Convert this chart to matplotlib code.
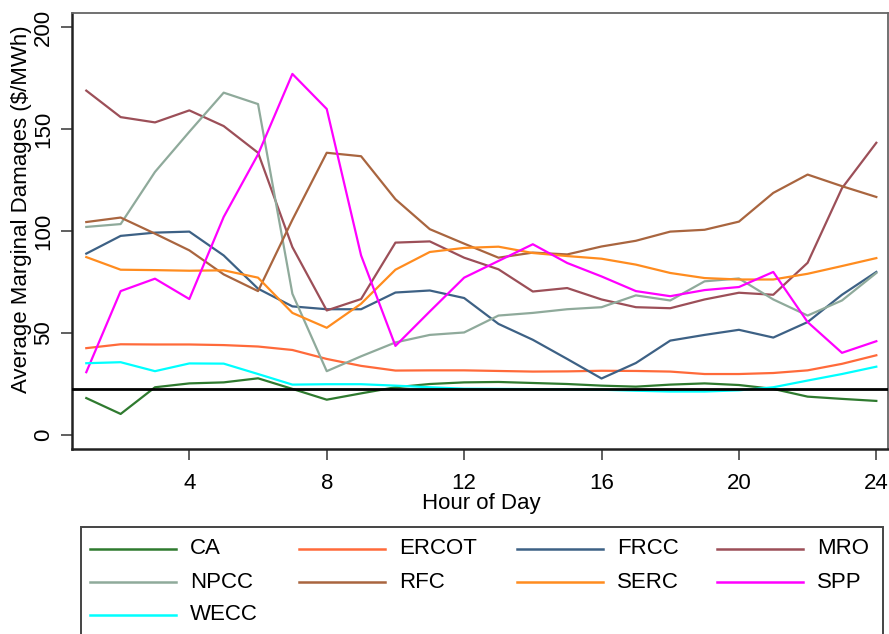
import matplotlib
matplotlib.use("Agg")
import matplotlib.pyplot as plt
import matplotlib.patches as mpatches
from matplotlib.lines import Line2D

plt.rcParams["font.family"] = ["Liberation Sans", "DejaVu Sans"]

hours = list(range(1, 25))

ca = [18.0, 10.2, 23.3, 25.2, 25.7, 27.7, 22.5, 17.2, 20.3, 23.3, 24.9, 25.7,
      25.9, 25.4, 24.9, 24.1, 23.6, 24.6, 25.2, 24.4, 22.5, 18.7, 17.6, 16.6]
ercot = [42.5, 44.4, 44.3, 44.3, 44.0, 43.3, 41.6, 37.2, 33.8, 31.5, 31.6, 31.6,
         31.3, 31.0, 31.1, 31.4, 31.3, 31.0, 29.8, 29.8, 30.3, 31.6, 34.8, 39.0]
frcc = [88.9, 97.6, 99.2, 99.7, 88.0, 71.7, 63.0, 61.6, 61.6, 69.8, 70.8, 67.1,
        54.4, 46.6, 37.2, 27.6, 35.2, 46.2, 49.0, 51.5, 47.7, 55.3, 68.7, 79.9]
mro = [168.9, 155.9, 153.3, 159.2, 151.5, 138.4, 92.1, 61.0, 66.6, 94.3, 94.9, 86.9,
       81.2, 70.3, 72.0, 66.4, 62.6, 62.1, 66.4, 69.7, 68.7, 84.4, 121.0, 143.3]
npcc = [102.0, 103.4, 129.0, 148.7, 167.9, 162.3, 69.2, 31.2, 38.5, 45.3, 49.0, 50.2,
        58.5, 59.8, 61.6, 62.6, 68.4, 65.9, 75.3, 76.7, 66.4, 58.5, 65.9, 79.4]
rfc = [104.4, 106.6, 98.7, 90.5, 78.7, 70.5, 105.5, 138.4, 136.7, 115.6, 100.9, 93.8,
       86.9, 89.4, 88.5, 92.4, 95.2, 99.7, 100.6, 104.6, 118.7, 127.7, 122.0, 116.7]
serc = [87.2, 81.0, 80.8, 80.5, 80.7, 77.1, 59.8, 52.5, 64.3, 81.0, 89.7, 91.7,
        92.3, 89.2, 87.7, 86.4, 83.5, 79.4, 76.9, 76.2, 76.2, 79.0, 82.8, 86.7]
spp = [30.7, 70.5, 76.6, 66.6, 106.9, 137.6, 177.1, 159.9, 88.0, 43.6, 60.5, 77.1,
       85.3, 93.5, 84.3, 77.7, 70.5, 68.0, 71.0, 72.5, 79.9, 55.3, 40.2, 45.9]
wecc = [35.1, 35.6, 31.2, 35.0, 34.9, 29.8, 24.6, 24.8, 24.8, 24.1, 23.3, 22.6,
        22.5, 22.4, 22.3, 22.1, 21.6, 21.2, 21.2, 21.8, 23.3, 26.6, 29.8, 33.4]

reference_level = 22.5

names = ["CA", "ERCOT", "FRCC", "MRO", "NPCC", "RFC", "SERC", "SPP", "WECC"]
series = [ca, ercot, frcc, mro, npcc, rfc, serc, spp, wecc]
colors = ["#2f7a2f", "#ff6a3a", "#3d6185", "#9c4f58", "#8faa9b",
          "#a9653f", "#ff8c1f", "#ff00ff", "#00ffff"]

W, H = 889, 634
fig = plt.figure(figsize=(W / 100, H / 100), dpi=100)
ax = fig.add_axes([72 / W, 1 - 449 / H, (888 - 72) / W, (449 - 13) / H])

for name, vals, col in zip(names, series, colors):
    ax.plot(hours, vals, color=col, linewidth=1.6, label=name)

ax.axhline(reference_level, color="black", linewidth=2.0, zorder=5)

ax.set_xlim(0.584, 24.34)
ax.set_ylim(-7.0, 207.0)
ax.set_xticks([4, 8, 12, 16, 20, 24])
ax.set_yticks([0, 50, 100, 150, 200])
ax.tick_params(axis="both", labelsize=16, length=8, width=1.2, color="#444444")
ax.tick_params(axis="x", pad=9)
ax.tick_params(axis="y", pad=5)
for lab in ax.get_yticklabels():
    lab.set_rotation(90)
    lab.set_va("center")

for s in ["left", "bottom"]:
    ax.spines[s].set_color("#222222")
    ax.spines[s].set_linewidth(1.8)
for s in ["top", "right"]:
    ax.spines[s].set_color("#666666")
    ax.spines[s].set_linewidth(1.3)

fig.text(481 / W, 1 - 503 / H, "Hour of Day", fontsize=16, ha="center", va="center")
fig.text(22 / W, 1 - 209 / H, "Average Marginal Damages ($/MWh)", fontsize=16,
         rotation=90, ha="center", va="center")

# legend box, cut off by the image bottom like the original
fig.add_artist(mpatches.Rectangle((81 / W, -0.05), (883 - 81) / W, 0.05 + (634 - 527) / H,
                                  transform=fig.transFigure, fill=False,
                                  edgecolor="#444444", linewidth=1.4))
col_x = [90, 299, 517, 717]
row_y = [549, 582, 615]
for i, (name, col) in enumerate(zip(names, colors)):
    r, c = divmod(i, 4)
    x0 = col_x[c]
    y0 = 1 - row_y[r] / H
    fig.add_artist(Line2D([x0 / W, (x0 + 86) / W], [y0, y0], transform=fig.transFigure,
                          color=col, linewidth=1.8))
    fig.text((x0 + 100) / W, y0, name, fontsize=16, ha="left", va="center")

fig.savefig("out.png", dpi=100)
